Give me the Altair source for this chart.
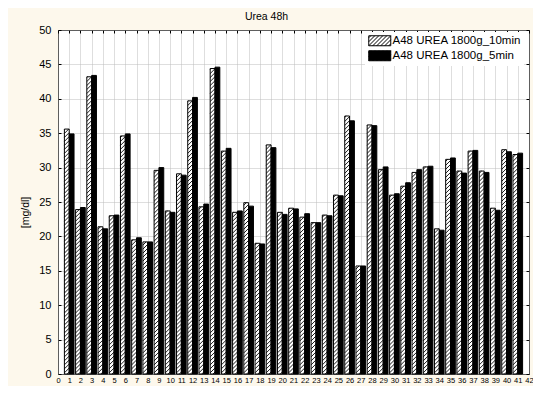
import altair as alt
import pandas as pd

# ---------------- data ----------------
categories = list(range(1, 42))
urea_10min = [35.6, 23.9, 43.2, 21.4, 23.0, 34.6, 19.5, 19.2, 29.6, 23.7,
              29.1, 39.7, 24.3, 44.4, 32.4, 23.5, 24.9, 19.0, 33.3, 23.5,
              24.1, 22.8, 22.0, 23.1, 26.0, 37.5, 15.7, 36.2, 29.7, 26.0,
              27.3, 29.3, 30.1, 21.1, 31.2, 29.5, 32.4, 29.5, 24.1, 32.6, 31.9]
urea_5min = [34.9, 24.2, 43.4, 21.1, 23.1, 34.9, 19.8, 19.2, 30.0, 23.5,
             28.9, 40.2, 24.7, 44.6, 32.8, 23.7, 24.4, 18.9, 32.9, 23.2,
             24.0, 23.3, 22.0, 23.0, 25.9, 36.8, 15.7, 36.1, 30.1, 26.2,
             27.8, 29.7, 30.2, 20.9, 31.4, 29.2, 32.5, 29.3, 23.8, 32.3, 32.1]
series_names = ["A48 UREA 1800g_10min", "A48 UREA 1800g_5min"]
x_ticks = list(range(0, 43))
y_ticks = list(range(0, 51, 5))
title_text = "Urea 48h"
y_title = "[mg/dl]"

# ---------------- style ----------------
FONT = "Liberation Sans"
PLOT_W, PLOT_H = 471, 344
BAR_W = 0.43          # bar width in category units
HATCH_RISE = 0.70     # y-units a hatch line climbs across one bar (~45 deg on screen)
HATCH_STEP = 0.58     # vertical spacing of hatch lines, y-units

bar_df = pd.DataFrame({
    "cat": categories * 2,
    "value": urea_10min + urea_5min,
    "series": [series_names[0]] * len(categories) + [series_names[1]] * len(categories),
})

# hatch segments for the 10min bars, derived from the values
rows = []
slope = HATCH_RISE / BAR_W
for c, v in zip(categories, urea_10min):
    left, right = c - BAR_W, c
    b = -HATCH_RISE + HATCH_STEP * 0.5
    while b < v:
        xs, ys = left, b
        xe, ye = right, b + HATCH_RISE
        if ys < 0:
            xs = left + (-ys) / slope
            ys = 0.0
        if ye > v:
            xe = left + (v - b) / slope
            ye = v
        if xe > xs:
            rows.append({"hx": xs, "hx2": xe, "hy": ys, "hy2": ye})
        b += HATCH_STEP
hatch_df = pd.DataFrame(rows)

# legend swatch path (rectangle with diagonal hatch), unit = sqrt(symbolSize)/2 px
X0, X1, YH = -1.0, 3.4, 1.0
parts = [f"M{X0},{-YH}H{X1}V{YH}H{X0}Z"]
sp = 0.8
c = X0 - 2 * YH + sp * 0.5
while c < X1:
    a = max(c, X0)
    b2 = min(c + 2 * YH, X1)
    if b2 > a:
        y0 = YH - (a - c)
        y1 = YH - (b2 - c)
        parts.append(f"M{a:.3f},{y0:.3f}L{b2:.3f},{y1:.3f}")
    c += sp
swatch_path = "".join(parts)

x_scale = alt.Scale(domain=[0, 42], nice=False, zero=False)
y_scale = alt.Scale(domain=[0, 50], nice=False)

bars = alt.Chart(bar_df).transform_calculate(
    x_lo=f"datum.cat + (datum.series === '{series_names[0]}' ? -{BAR_W} : 0)",
    x_hi=f"datum.cat + (datum.series === '{series_names[0]}' ? 0 : {BAR_W})",
).mark_rect(stroke="black", strokeWidth=1).encode(
    x=alt.X("x_lo:Q", scale=x_scale,
            axis=alt.Axis(values=x_ticks, title=None, labelFontSize=7.5, labelPadding=2,
                          ticks=False, domain=False, grid=True, labelFlush=False,
                          labelOverlap=False, format="d")),
    x2="x_hi:Q",
    y=alt.Y("value:Q", scale=y_scale,
            axis=alt.Axis(values=y_ticks, title=y_title, labelFontSize=11, labelPadding=7,
                          ticks=False, domain=False, grid=True, format="d",
                          titleFontSize=10.5, titleFontWeight="normal",
                          titleX=-33, titleY=182, titleAlign="center",
                          titleBaseline="middle", titleAngle=270)),
    y2=alt.datum(0),
    fill=alt.Fill("series:N", scale=alt.Scale(domain=series_names, range=["white", "black"]),
                  legend=alt.Legend(title=None, orient="none", legendX=307, legendY=2,
                                    fillColor="white", padding=3, symbolType=swatch_path,
                                    symbolSize=100, symbolStrokeColor="black",
                                    symbolStrokeWidth=1, labelOffset=13, labelFont=FONT,
                                    labelFontSize=11.5, labelLimit=400, rowPadding=0)),
)

hatch = alt.Chart(hatch_df).mark_rule(color="black", strokeWidth=0.9).encode(
    x=alt.X("hx:Q", scale=x_scale,
            axis=alt.Axis(orient="top", offset=-3, tickSize=3, labels=False, domain=False,
                          grid=False, values=x_ticks, title=None)),
    x2="hx2:Q",
    y=alt.Y("hy:Q", scale=y_scale,
            axis=alt.Axis(orient="right", offset=-3, tickSize=3, labels=False, domain=False,
                          grid=False, values=y_ticks, title=None)),
    y2="hy2:Q",
)

left_ticks = alt.Chart(bar_df).mark_point(opacity=0).encode(
    x=alt.X("cat:Q", scale=x_scale, axis=None),
    y=alt.Y("value:Q", scale=y_scale,
            axis=alt.Axis(orient="left", offset=-3, tickSize=3, labels=False, domain=False,
                          grid=False, values=y_ticks, title=None)),
)

chart = alt.layer(bars, hatch, left_ticks).resolve_axis(
    x="independent", y="independent"
).properties(
    width=PLOT_W,
    height=PLOT_H,
    padding={"left": 50, "top": 22, "right": 4, "bottom": 12},
    autosize=alt.AutoSizeParams(type="none"),
    background="#fdf8ec",
    title=alt.TitleParams(title_text, font=FONT, fontSize=10.5, fontWeight="normal",
                          anchor="middle", dx=-27, offset=2, color="black"),
).configure_view(
    stroke="black", strokeWidth=1, fill="white"
).configure_axis(
    gridColor="#bdbdbd", gridDash=[1, 1], gridWidth=1, labelFont=FONT, titleFont=FONT,
    labelColor="black", titleColor="black", tickColor="black"
)

chart.save("out.html", embed_options={"renderer": "svg", "actions": False})
